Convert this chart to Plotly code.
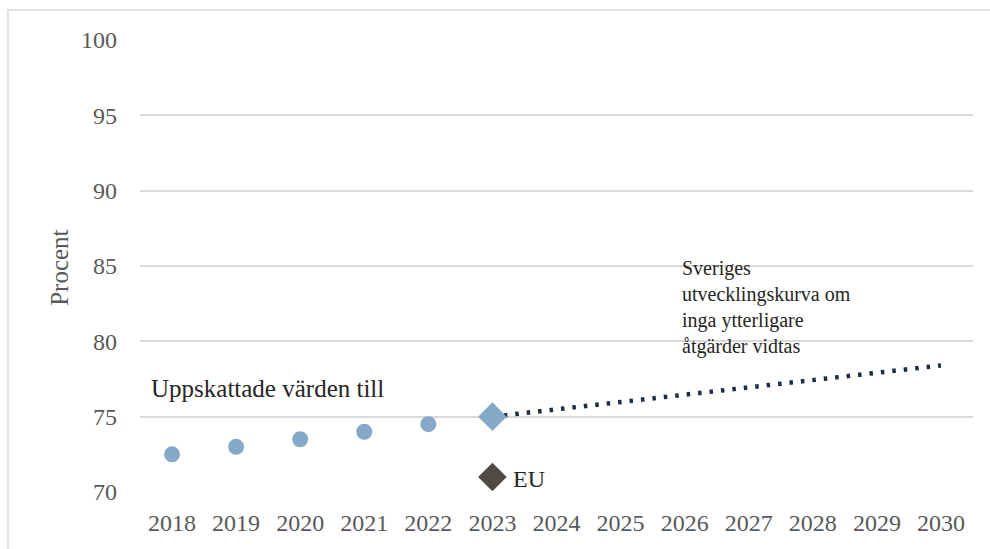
import plotly.graph_objects as go

# Category axis labels
years = [str(y) for y in range(2018, 2031)]

# Estimated values 2018-2022
est_years = ["2018", "2019", "2020", "2021", "2022"]
est_values = [72.5, 73.0, 73.5, 74.0, 74.5]

# Sweden 2023
swe_year = ["2023"]
swe_value = [75.0]

# EU 2023
eu_year = ["2023"]
eu_value = [71.0]

# Projection if no further measures are taken
proj_years = ["2023", "2030"]
proj_values = [75.0, 78.4]

SERIF = "Liberation Serif"
GRID = "#d9d9d9"
TICK = "#595959"

fig = go.Figure()

fig.add_trace(go.Scatter(
    x=proj_years, y=proj_values, mode="lines",
    line=dict(color="#1c2e45", width=4.5, dash="3.5px,8px"),
    hoverinfo="skip", showlegend=False,
))
fig.add_trace(go.Scatter(
    x=est_years, y=est_values, mode="markers",
    marker=dict(symbol="circle", size=16, color="#87a9c9"),
    showlegend=False,
))
fig.add_trace(go.Scatter(
    x=swe_year, y=swe_value, mode="markers",
    marker=dict(symbol="diamond", size=22, color="#87a9c9"),
    showlegend=False,
))
fig.add_trace(go.Scatter(
    x=eu_year, y=eu_value, mode="markers",
    marker=dict(symbol="diamond", size=22, color="#4f4a44"),
    showlegend=False,
))

fig.update_layout(
    width=990, height=549,
    margin=dict(l=140, r=17, t=40, b=57),
    paper_bgcolor="white", plot_bgcolor="white",
    font=dict(family=SERIF, color="#262626"),
    xaxis=dict(
        type="category", categoryorder="array", categoryarray=years,
        range=[-0.5, 12.5], showgrid=False, zeroline=False, showline=False,
        ticks="", ticklabelstandoff=14,
        tickfont=dict(family=SERIF, size=24, color=TICK),
    ),
    yaxis=dict(
        range=[70, 100], dtick=5, tick0=70,
        showgrid=True, gridcolor=GRID, gridwidth=1.5,
        zeroline=False, showline=False, ticks="", ticklabelstandoff=22,
        tickfont=dict(family=SERIF, size=24, color=TICK),
    ),
    shapes=[dict(
        type="rect", xref="paper", yref="paper",
        x0=-0.1585, x1=1.05, y0=-0.2, y1=1.0664,
        line=dict(color=GRID, width=1.5), fillcolor="rgba(0,0,0,0)", layer="below",
    )],
    annotations=[
        dict(text="Procent", xref="paper", yref="paper", x=-0.096, y=0.496,
             textangle=-90, showarrow=False, xanchor="center", yanchor="middle",
             font=dict(family=SERIF, size=25, color=TICK)),
        dict(text="Uppskattade värden till", xref="paper", yref="paper",
             x=0.011, y=0.230, showarrow=False, xanchor="left", yanchor="middle",
             font=dict(family=SERIF, size=25, color="#262626")),
        dict(text="Sveriges<br>utvecklingskurva om<br>inga ytterligare<br>åtgärder vidtas",
             xref="paper", yref="paper", x=0.648, y=0.525, showarrow=False,
             xanchor="left", yanchor="top", align="left",
             font=dict(family=SERIF, size=20, color="#262626")),
        dict(text="EU", x=years.index(eu_year[0]), y=eu_value[0], xref="x", yref="y",
             showarrow=False, xanchor="left", yanchor="middle", xshift=19, yshift=-2,
             font=dict(family=SERIF, size=24, color="#262626")),
    ],
)

fig.write_html("out.html")
